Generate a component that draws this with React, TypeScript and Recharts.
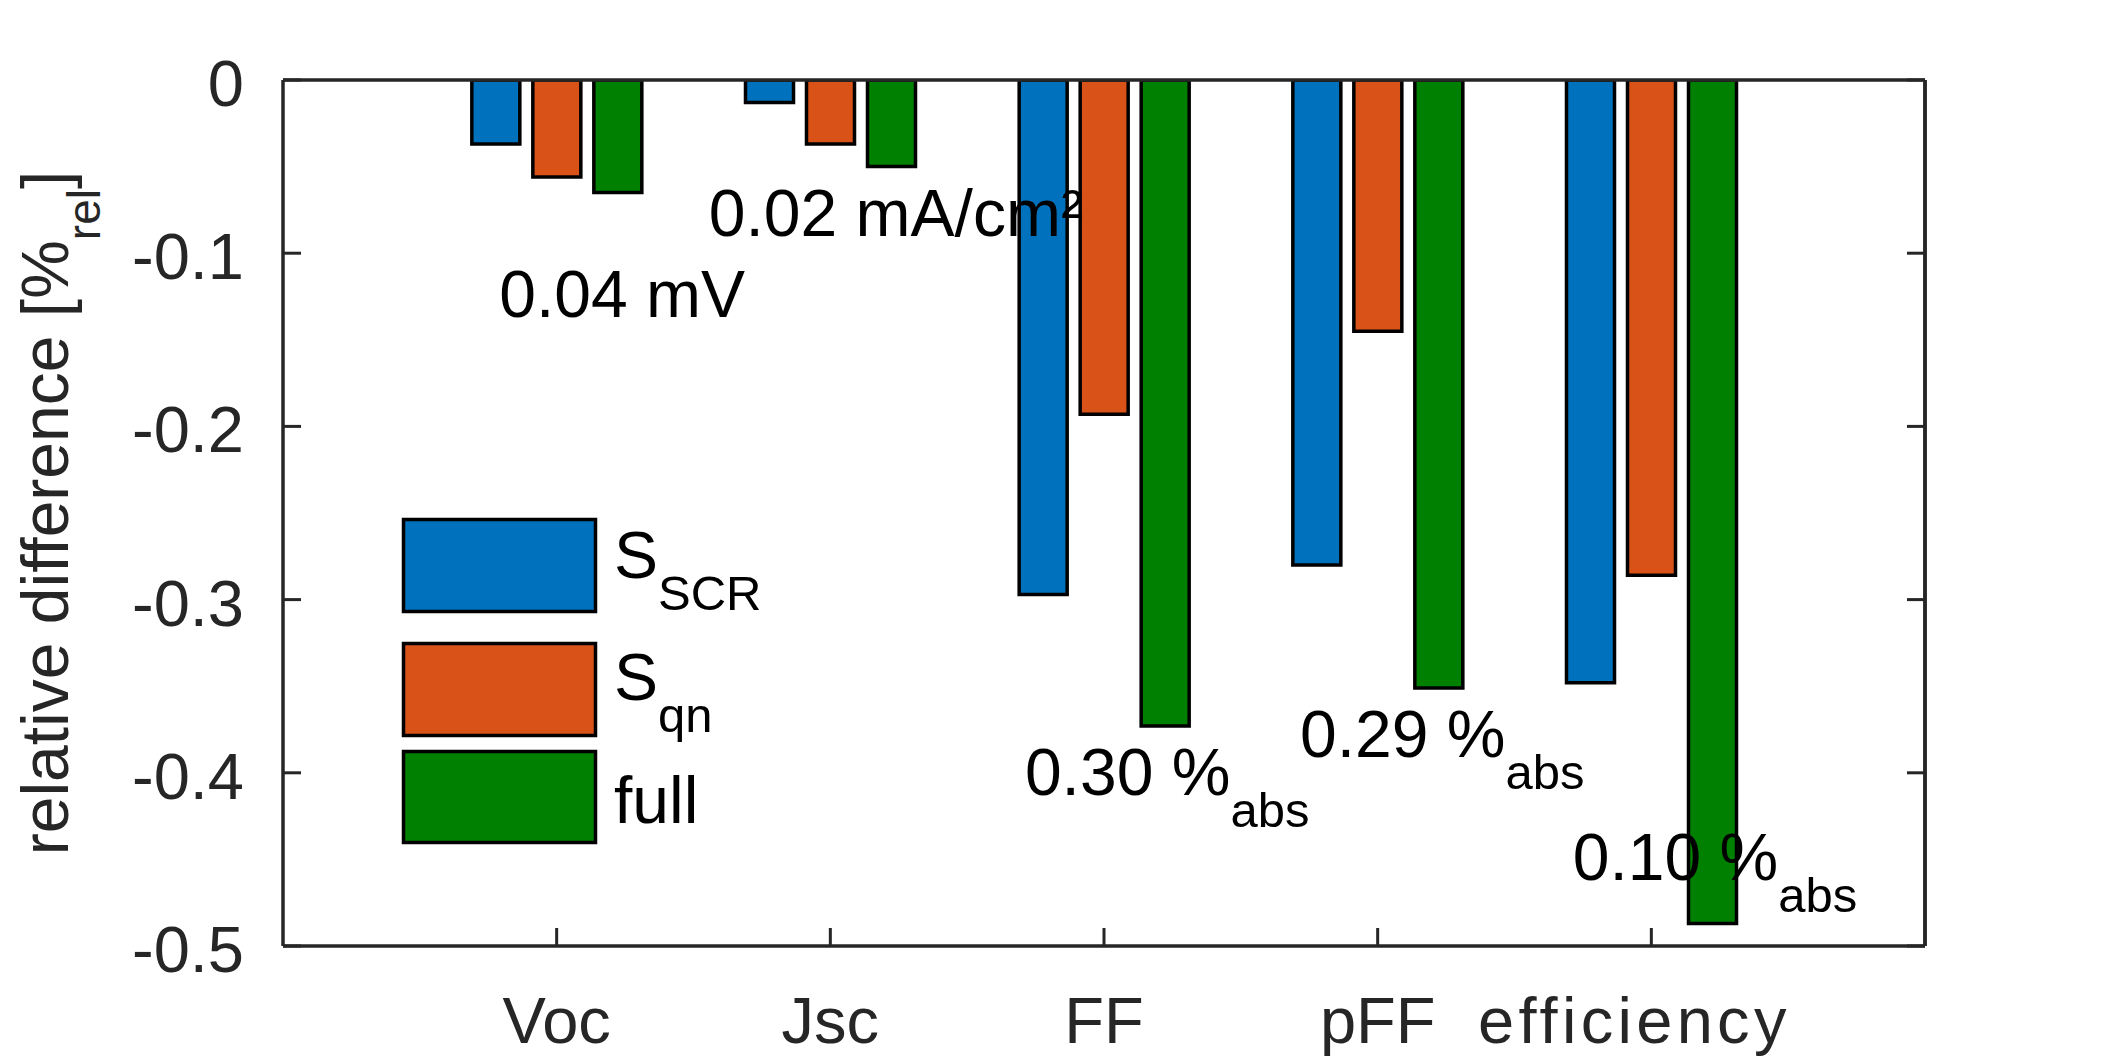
import React from 'react';
import { BarChart, Bar, XAxis, YAxis, ReferenceLine, ReferenceDot, Legend } from 'recharts';

const categories = ['Voc', 'Jsc', 'FF', 'pFF', 'efficiency'];
const categoryPositions = [1, 2, 3, 4, 5];
const sScrValues = [-0.037, -0.013, -0.297, -0.28, -0.348];
const sQnValues = [-0.056, -0.037, -0.193, -0.145, -0.286];
const fullValues = [-0.065, -0.05, -0.373, -0.351, -0.487];
const yTicks = [0, -0.1, -0.2, -0.3, -0.4, -0.5];

const seriesKeys = ['scr', 'qn', 'full'];
const seriesMain = ['S', 'S', 'full'];
const seriesSub = ['SCR', 'qn', ''];
const seriesColors = ['#0072BD', '#D95319', '#008000'];

const annotationX = [0.79, 1.556, 2.711, 3.716, 4.713];
const annotationY = [-0.137, -0.09, -0.413, -0.391, -0.462];
const annotationText = ['0.04 mV', '0.02 mA/cm²', '0.30 %', '0.29 %', '0.10 %'];
const annotationSub = ['', '', 'abs', 'abs', 'abs'];

const data = categories.map((c, i) => ({
  x: categoryPositions[i],
  name: c,
  scr: sScrValues[i],
  qn: sQnValues[i],
  full: fullValues[i],
}));

const FONT = '"Liberation Sans", Arial, Helvetica, sans-serif';
const AXIS = '#262626';
const BIG = 66;
const TICKF = 65;
const SMALL = 49;

const XTick = (props: any) => {
  const { x, y, payload } = props;
  const idx = categoryPositions.indexOf(payload.value);
  const label = idx >= 0 ? categories[idx] : '';
  const wide = label.length > 5;
  return (
    <text
      x={x}
      y={y}
      dy={46}
      dx={wide ? -17 : 0}
      letterSpacing={wide ? 4.3 : 0}
      textAnchor="middle"
      fontSize={TICKF}
      fontFamily={FONT}
      fill={AXIS}
    >
      {label}
    </text>
  );
};

const YTick = (props: any) => {
  const { x, y, payload } = props;
  const v = payload.value;
  const label = Math.abs(v) < 1e-9 ? '0' : v.toFixed(1);
  return (
    <text x={x} y={y} dy={26} textAnchor="end" fontSize={TICKF} fontFamily={FONT} fill={AXIS}>
      {label}
    </text>
  );
};

const EmptyTick = () => <g />;

const YLabel = (props: any) => {
  const vb = props.viewBox || {};
  const cy = vb.y !== undefined && vb.height !== undefined ? vb.y + vb.height / 2 : 513;
  const bx = vb.x !== undefined ? vb.x - 115 : 68;
  return (
    <text
      transform={`translate(${bx}, ${cy}) rotate(-90)`}
      textAnchor="middle"
      fontSize={BIG}
      fontFamily={FONT}
      fill={AXIS}
    >
      relative difference [%
      <tspan dy={32} fontSize={SMALL - 3}>rel</tspan>
      <tspan dy={-32} fontSize={BIG}>]</tspan>
    </text>
  );
};

const legendRowTop = [14.5, 138.5, 246.5];
const legendRowHeight = [92, 92, 91];
const legendBaseline = [73, 195, 318];

const LegendContent = (props: any) => {
  const payload = (props.payload || []).filter((p: any) => seriesKeys.includes(p.dataKey));
  return (
    <svg width={320} height={360} style={{ overflow: 'visible', display: 'block' }}>
      {payload.map((p: any) => {
        const k = seriesKeys.indexOf(p.dataKey);
        return (
          <g key={p.dataKey}>
            <rect
              x={8.5}
              y={legendRowTop[k]}
              width={192}
              height={legendRowHeight[k]}
              fill={seriesColors[k]}
              stroke="#000"
              strokeWidth={3.5}
            />
            <text x={219} y={legendBaseline[k]} fontSize={BIG} fontFamily={FONT} fill="#000">
              {seriesMain[k]}
              {seriesSub[k] ? (
                <tspan dy={32} fontSize={SMALL}>{seriesSub[k]}</tspan>
              ) : null}
            </text>
          </g>
        );
      })}
    </svg>
  );
};

const makeAnnotationShape = (i: number) => (props: any) => {
  const { cx, cy } = props;
  return (
    <text x={cx} y={cy} fontSize={BIG} fontFamily={FONT} fill="#000" textAnchor="start">
      {annotationText[i]}
      {annotationSub[i] ? (
        <tspan dy={32} fontSize={SMALL}>{annotationSub[i]}</tspan>
      ) : null}
    </text>
  );
};

export default function App() {
  return (
    <div style={{ position: 'absolute', left: 0, top: 0, width: 2126, height: 1063, background: '#fff' }}>
      <BarChart
        width={2126}
        height={1063}
        data={data}
        margin={{ top: 80, right: 200, bottom: 0, left: 183 }}
        barGap={13}
      >
        <XAxis
          dataKey="x"
          type="number"
          domain={[0, 6]}
          ticks={categoryPositions}
          allowDataOverflow
          height={117}
          axisLine={{ stroke: AXIS, strokeWidth: 3.5 }}
          tickLine={{ stroke: AXIS, strokeWidth: 3 }}
          tickSize={-18}
          tickMargin={69}
          tick={<XTick />}
          interval={0}
        />
        <YAxis
          yAxisId="left"
          type="number"
          domain={[-0.5, 0]}
          ticks={yTicks}
          allowDataOverflow
          width={100}
          axisLine={{ stroke: AXIS, strokeWidth: 3.5 }}
          tickLine={{ stroke: AXIS, strokeWidth: 3 }}
          tickSize={-18}
          tickMargin={57}
          tick={<YTick />}
          interval={0}
          label={<YLabel />}
        />
        <YAxis
          yAxisId="right"
          orientation="right"
          type="number"
          domain={[-0.5, 0]}
          ticks={yTicks}
          allowDataOverflow
          width={1}
          axisLine={{ stroke: AXIS, strokeWidth: 3.5 }}
          tickLine={{ stroke: AXIS, strokeWidth: 3 }}
          tickSize={-18}
          tick={<EmptyTick />}
          interval={0}
        />
        <Legend
          layout="horizontal"
          verticalAlign="middle"
          align="center"
          wrapperStyle={{ position: 'absolute', left: 395, top: 505, width: 320, height: 360 }}
          content={<LegendContent />}
        />
        {seriesKeys.map((k, i) => (
          <Bar
            key={k}
            yAxisId="left"
            dataKey={k}
            name={seriesMain[i] + seriesSub[i]}
            fill={seriesColors[i]}
            stroke="#000"
            strokeWidth={3.5}
            barSize={48}
            isAnimationActive={false}
          />
        ))}
        <ReferenceLine yAxisId="left" y={0} stroke={AXIS} strokeWidth={3.5} />
        <ReferenceLine yAxisId="left" x={6} stroke={AXIS} strokeWidth={3.5} />
        {annotationText.map((t, i) => (
          <ReferenceDot
            key={t}
            yAxisId="left"
            x={annotationX[i]}
            y={annotationY[i]}
            r={0}
            shape={makeAnnotationShape(i)}
          />
        ))}
      </BarChart>
    </div>
  );
}
